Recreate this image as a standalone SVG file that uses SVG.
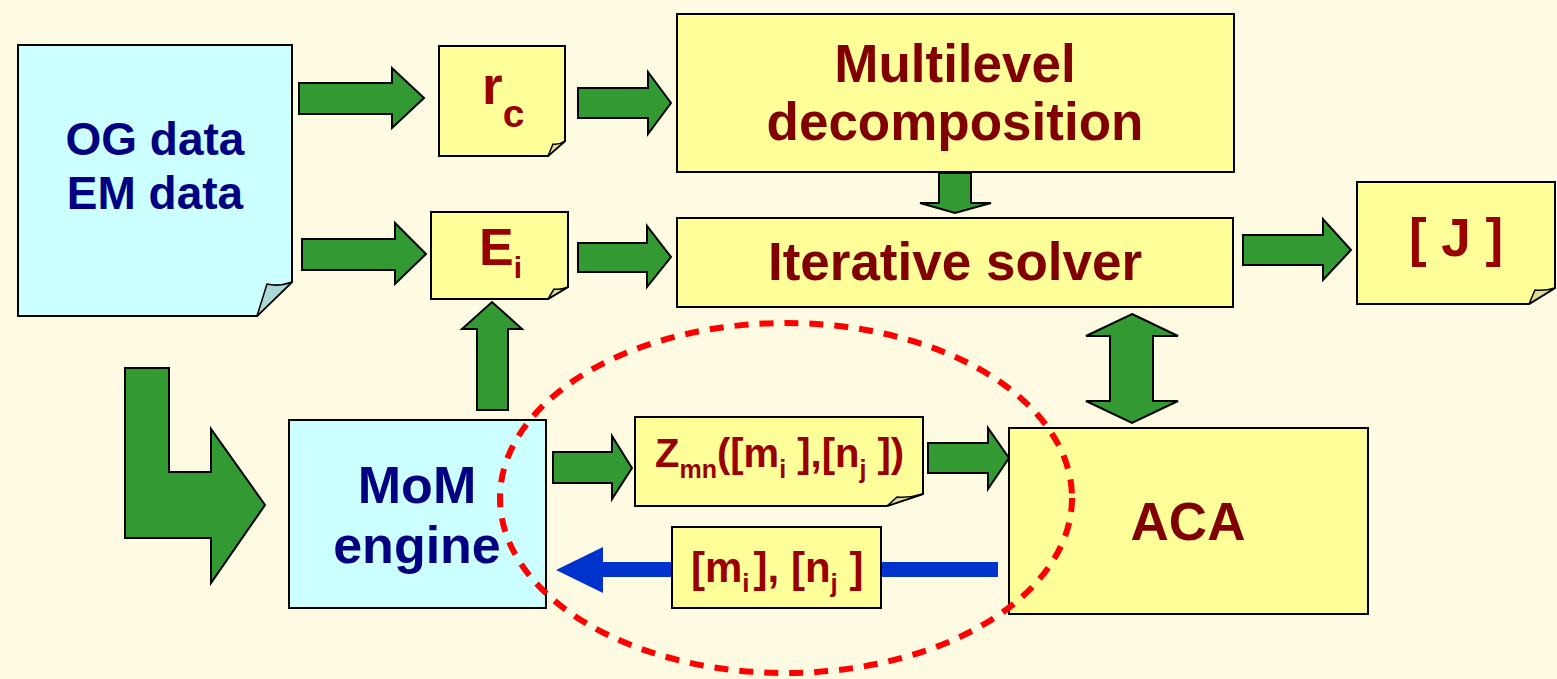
<svg xmlns="http://www.w3.org/2000/svg" width="1557" height="679" viewBox="0 0 1557 679">
<style>
.bg{fill:#FFFAE2}
.yel{fill:#FFFF99;stroke:#000;stroke-width:2}
.cyn{fill:#CCFFFF;stroke:#000;stroke-width:2}
.foldY{fill:#E0DC98;stroke:#000;stroke-width:1.5;stroke-linejoin:round}
.foldC{fill:#A8D8D8;stroke:#000;stroke-width:1.5;stroke-linejoin:round}
.arr{fill:#339933;stroke:#000;stroke-width:2;stroke-linejoin:miter}
.blue{fill:#0033CC}
text{font-family:"Liberation Sans",Arial,sans-serif;font-weight:bold}
.navy{fill:#000080}
.red{fill:#990000}
.dred{fill:#800000}
.mid{text-anchor:middle}
</style>
<rect class="bg" x="0" y="0" width="1557" height="679"/>

<g id="connectors">
  <polygon class="arr" points="299,83 392,83 392,68 424,98 392,128 392,114 299,114"/>
  <polygon class="arr" points="302,239 395,239 395,223 426,254 395,284 395,270 302,270"/>
  <polygon class="arr" points="578,88 648,88 648,72 671,103 648,134 648,118 578,118"/>
  <polygon class="arr" points="578,243 647,243 647,226 671,257 647,287 647,272 578,272"/>
  <polygon class="arr" points="939,173 971,173 971,203 991,203 955,213 920,203 939,203"/>
  <polygon class="arr" points="1243,235 1323,235 1323,219 1351,250 1323,280 1323,265 1243,265"/>
  <polygon class="arr" points="1132,314 1178,336 1153,336 1153,401 1178,401 1132,423 1086,401 1110,401 1110,336 1086,336"/>
  <polygon class="arr" points="125,368 169,368 169,472 211,472 211,429 265,505 211,583 211,538 125,538"/>
  <polygon class="arr" points="477,410 477,329 462,329 492,302 522,329 508,329 508,410"/>
  <polygon class="arr" points="553,452 612,452 612,436 632,468 612,499 612,483 553,483"/>
  <polygon class="arr" points="928,443 988,443 988,428 1009,458 988,489 988,473 928,473"/>
  <rect class="blue" x="600" y="562" width="398" height="15"/>
  <polygon class="blue" points="603,547 556,570 603,593"/>
</g>

<g id="og-data">
  <path class="cyn" d="M18,45 H292 V282 L257,316 H18 Z"/>
  <path class="foldC" d="M257,316 L267,284 Q278,287 292,282 Z"/>
  <text class="navy mid" x="155" y="155" font-size="46">OG data</text>
  <text class="navy mid" x="155" y="209" font-size="46">EM data</text>
</g>

<g id="rc">
  <path class="yel" d="M439,46 H565 V141 L548,156 H439 Z"/>
  <path class="foldY" d="M548,156 L553,144 Q559,145 565,141 Z"/>
  <text class="red" x="482" y="104" font-size="53">r<tspan font-size="39" dy="23">c</tspan></text>
</g>

<g id="ei">
  <path class="yel" d="M431,212 H568 V287 L548,299 H431 Z"/>
  <path class="foldY" d="M548,299 L554,289 Q560,290 568,287 Z"/>
  <text class="red" x="479" y="265" font-size="52">E<tspan font-size="30" dy="13">i</tspan></text>
</g>

<g id="multilevel">
  <rect class="yel" x="677" y="14" width="557" height="158"/>
  <text class="dred mid" x="955" y="82" font-size="53">Multilevel</text>
  <text class="dred mid" x="955" y="140" font-size="53">decomposition</text>
</g>

<g id="iterative">
  <rect class="yel" x="677" y="218" width="556" height="89"/>
  <text class="dred mid" x="955" y="280" font-size="53">Iterative solver</text>
</g>

<g id="j">
  <path class="yel" d="M1357,182 H1555 V288 L1529,304 H1357 Z"/>
  <path class="foldY" d="M1529,304 L1535,290 Q1545,291 1555,288 Z"/>
  <text class="red mid" x="1456" y="256" font-size="53">[ J ]</text>
</g>

<g id="mom">
  <rect class="cyn" x="289" y="420" width="257" height="188"/>
  <text class="navy mid" x="417" y="503" font-size="52">MoM</text>
  <text class="navy mid" x="417" y="563" font-size="52">engine</text>
</g>

<g id="aca">
  <rect class="yel" x="1009" y="428" width="359" height="186"/>
  <text class="dred mid" x="1188" y="540" font-size="53">ACA</text>
</g>

<g id="zmn">
  <path class="yel" d="M635,417 H923 V494 L887,506 H635 Z"/>
  <path class="foldY" d="M887,506 L897,497 Q910,498 923,494 Z"/>
  <text class="red" x="655" y="467" font-size="40">Z<tspan font-size="25" dy="11">mn</tspan><tspan dy="-11">([m</tspan><tspan font-size="25" dy="11">i</tspan><tspan dy="-11"> ],[n</tspan><tspan font-size="25" dy="11">j</tspan><tspan dy="-11"> ])</tspan></text>
</g>

<g id="mn-label">
  <rect class="yel" x="672" y="527" width="209" height="81"/>
  <text class="red" x="691" y="582" font-size="42">[m<tspan font-size="26" dy="10">i</tspan><tspan dy="-10" dx="4">], [n</tspan><tspan font-size="26" dy="10">j</tspan><tspan dy="-10"> ]</tspan></text>
</g>

<g id="highlight">
  <ellipse cx="786" cy="498" rx="286" ry="175" fill="none" stroke="#FF0000" stroke-width="6" stroke-dasharray="14,11"/>
</g>
</svg>
